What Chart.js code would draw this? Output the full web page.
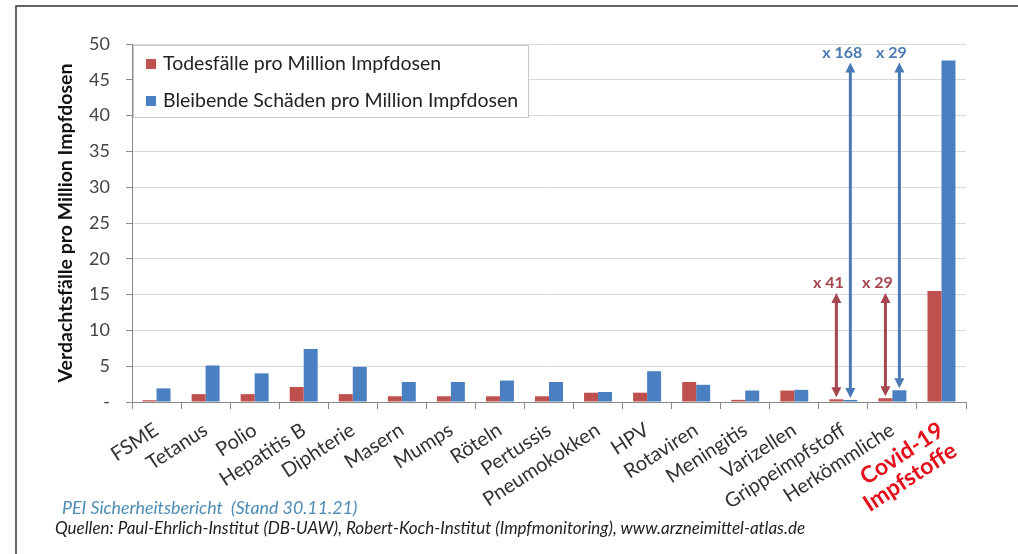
<!DOCTYPE html>
<html>
<head>
<meta charset="utf-8">
<script src="https://cdn.jsdelivr.net/npm/chart.js@4"></script>
<style>
html, body { margin: 0; padding: 0; background: #fff; }
#wrap { position: relative; width: 1018px; height: 554px; overflow: hidden; }
#c { position: absolute; left: 0; top: 0; }
.note { position: absolute; font-family: Lato, sans-serif; font-style: italic; white-space: nowrap; line-height: 1.2; }
</style>
</head>
<body>
<div id="wrap">
  <canvas id="c" width="1018" height="554"></canvas>
  <div class="note" style="left:62px; top:497px; font-size:17.8px; color:#4b8bb5;">PEI Sicherheitsbericht&nbsp; (Stand 30.11.21)</div>
  <div class="note" style="left:55px; top:518px; font-size:17px; color:#222;">Quellen: Paul-Ehrlich-Institut (DB-UAW), Robert-Koch-Institut (Impfmonitoring), www.arzneimittel-atlas.de</div>
</div>
<script>
// --- Daten ---
const categories = ['FSME', 'Tetanus', 'Polio', 'Hepatitis B', 'Diphterie', 'Masern', 'Mumps', 'Röteln',
  'Pertussis', 'Pneumokokken', 'HPV', 'Rotaviren', 'Meningitis', 'Varizellen', 'Grippeimpfstoff',
  'Herkömmliche', ['Covid-19', 'Impfstoffe']];
const todesfaelle = [0.25, 1.1, 1.1, 2.1, 1.1, 0.8, 0.8, 0.8, 0.8, 1.3, 1.3, 2.8, 0.3, 1.6, 0.38, 0.53, 15.5];
const schaeden = [1.9, 5.1, 4.0, 7.4, 4.9, 2.8, 2.8, 3.0, 2.8, 1.4, 4.3, 2.4, 1.6, 1.7, 0.28, 1.64, 47.7];
const seriesNames = ['Todesfälle pro Million Impfdosen', 'Bleibende Schäden pro Million Impfdosen'];
const yTicks = [0, 5, 10, 15, 20, 25, 30, 35, 40, 45, 50];

// Pfeile: Vergleich zu Covid-19 (letzte Kategorie)
const arrowCats = [14, 15];
const factorDeaths = ['x 41', 'x 29'];
const factorDamages = ['x 168', 'x 29'];

const RED = '#c0504d', BLUE = '#4a7fc1';
const RED_ARROW = '#a5454f', BLUE_ARROW = '#4a7ab3';
const covidIdx = categories.length - 1;

Chart.defaults.font.family = 'Lato, sans-serif';

// Rahmen
const framePlugin = {
  id: 'frame',
  beforeDraw(chart) {
    const c = chart.ctx;
    c.save();
    c.strokeStyle = '#333';
    c.lineWidth = 1.5;
    c.beginPath();
    c.moveTo(16, 554); c.lineTo(16, 6); c.lineTo(1018, 6);
    c.stroke();
    c.restore();
  }
};

// Legende im Diagramm
const legendPlugin = {
  id: 'boxLegend',
  afterDatasetsDraw(chart) {
    const c = chart.ctx, a = chart.chartArea;
    const x = a.left + 1, y = a.top + 1, w = 395, h = 72;
    c.save();
    c.fillStyle = '#fff';
    c.fillRect(x, y, w, h);
    c.strokeStyle = '#c8c8c8';
    c.lineWidth = 1;
    c.strokeRect(x + 0.5, y + 0.5, w, h);
    c.font = '19.5px Lato, sans-serif';
    c.textBaseline = 'middle';
    [RED, BLUE].forEach((col, i) => {
      const cy = y + 19 + i * 37;
      c.fillStyle = col;
      c.fillRect(x + 13, cy - 5, 10, 10);
      c.fillStyle = '#222';
      c.fillText(seriesNames[i], x + 30, cy);
    });
    c.restore();
  }
};

// Doppelpfeile mit Faktoren
function arrow(c, x, y1, y2, col) {
  c.strokeStyle = col; c.fillStyle = col; c.lineWidth = 3;
  c.beginPath(); c.moveTo(x, y1 + 8); c.lineTo(x, y2 - 8); c.stroke();
  c.beginPath(); c.moveTo(x, y1); c.lineTo(x - 5, y1 + 10); c.lineTo(x + 5, y1 + 10); c.closePath(); c.fill();
  c.beginPath(); c.moveTo(x, y2); c.lineTo(x - 5, y2 - 10); c.lineTo(x + 5, y2 - 10); c.closePath(); c.fill();
}

const arrowPlugin = {
  id: 'arrows',
  afterDatasetsDraw(chart) {
    const c = chart.ctx;
    c.save();
    c.font = 'bold 16px Lato, sans-serif';
    c.textAlign = 'center';
    c.textBaseline = 'middle';
    [[0, factorDeaths, RED_ARROW], [1, factorDamages, BLUE_ARROW]].forEach(([ds, labels, col]) => {
      const meta = chart.getDatasetMeta(ds);
      const top = meta.data[covidIdx].y + 2;
      arrowCats.forEach((cat, i) => {
        const bar = meta.data[cat];
        arrow(c, bar.x, top, bar.y - 2, col);
        c.fillStyle = col;
        c.fillText(labels[i], bar.x - 8, top - 10);
      });
    });
    c.restore();
  }
};

new Chart(document.getElementById('c'), {
  type: 'bar',
  data: {
    labels: categories,
    datasets: [
      { label: seriesNames[0], data: todesfaelle, backgroundColor: RED },
      { label: seriesNames[1], data: schaeden, backgroundColor: BLUE }
    ]
  },
  options: {
    responsive: false,
    animation: false,
    devicePixelRatio: 1,
    datasets: { bar: { categoryPercentage: 0.57, barPercentage: 1 } },
    layout: { padding: { top: 44, right: 52, left: 0, bottom: 0 } },
    plugins: { legend: { display: false }, tooltip: { enabled: false } },
    scales: {
      x: {
        grid: { drawOnChartArea: false, tickLength: 7, tickColor: '#888', offset: true },
        border: { color: '#888' },
        ticks: {
          autoSkip: false, minRotation: 33, maxRotation: 33, padding: 9,
          color: (ctx) => ctx.index === covidIdx ? '#e3111b' : '#333',
          font: (ctx) => ctx.index === covidIdx ? { size: 23, weight: 'bold', lineHeight: 1.05 } : { size: 20 }
        },
        afterFit(s) { s.height = 152; }
      },
      y: {
        min: 0, max: 50,
        afterBuildTicks(s) { s.ticks = yTicks.map(v => ({ value: v })); },
        grid: { color: '#d9d9d9', tickLength: 6, tickColor: '#888' },
        border: { color: '#888' },
        ticks: {
          color: '#444', font: { size: 18 }, padding: 16,
          callback: (v) => v === 0 ? '-' : v
        },
        title: {
          display: true, text: 'Verdachtsfälle pro Million Impfdosen',
          font: { size: 19.5, weight: 'bold' }, color: '#111', padding: { top: 54, bottom: 0 }
        },
        afterFit(s) { s.width = 132; }
      }
    }
  },
  plugins: [framePlugin, legendPlugin, arrowPlugin]
});
</script>
</body>
</html>
